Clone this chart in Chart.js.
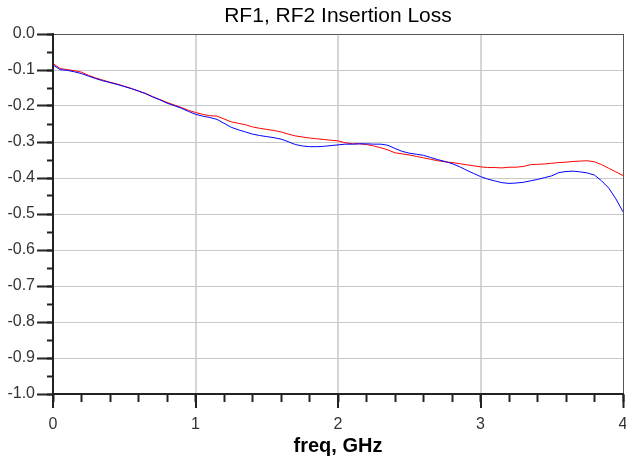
<!DOCTYPE html>
<html>
<head>
<meta charset="utf-8">
<script src="https://cdn.jsdelivr.net/npm/chart.js@4"></script>
<style>
  html, body { margin: 0; padding: 0; background: #ffffff; }
  #wrap { width: 626px; height: 461px; }
</style>
</head>
<body>
<div id="wrap"><canvas id="c" width="626" height="461"></canvas></div>
<script>
const freqGHz = [0.00,0.05,0.10,0.15,0.20,0.25,0.30,0.35,0.40,0.45,0.50,0.55,0.60,0.65,0.70,0.75,0.80,0.85,0.90,0.95,
  1.00,1.05,1.10,1.15,1.20,1.25,1.30,1.35,1.40,1.45,1.50,1.55,1.60,1.65,1.70,1.75,1.80,1.85,1.90,1.95,
  2.00,2.05,2.10,2.15,2.20,2.25,2.30,2.35,2.40,2.45,2.50,2.55,2.60,2.65,2.70,2.75,2.80,2.85,2.90,2.95,
  3.00,3.05,3.10,3.15,3.20,3.25,3.30,3.35,3.40,3.45,3.50,3.55,3.60,3.65,3.70,3.75,3.80,3.85,3.90,3.95,4.00];

const rf1Loss = [-0.082,-0.096,-0.099,-0.102,-0.106,-0.115,-0.122,-0.128,-0.134,-0.139,-0.145,-0.151,-0.159,-0.165,-0.174,-0.182,-0.190,-0.197,-0.204,-0.212,
  -0.218,-0.223,-0.227,-0.228,-0.236,-0.244,-0.248,-0.252,-0.258,-0.262,-0.265,-0.268,-0.272,-0.278,-0.283,-0.286,-0.289,-0.291,-0.293,-0.295,
  -0.297,-0.302,-0.305,-0.305,-0.307,-0.311,-0.316,-0.322,-0.330,-0.333,-0.336,-0.340,-0.344,-0.348,-0.352,-0.355,-0.357,-0.360,-0.363,-0.366,
  -0.369,-0.371,-0.371,-0.372,-0.370,-0.370,-0.368,-0.363,-0.362,-0.361,-0.359,-0.357,-0.356,-0.354,-0.353,-0.352,-0.355,-0.363,-0.373,-0.383,-0.393];

const rf2Loss = [-0.086,-0.099,-0.101,-0.105,-0.110,-0.117,-0.124,-0.130,-0.135,-0.140,-0.146,-0.152,-0.158,-0.166,-0.175,-0.183,-0.192,-0.199,-0.206,-0.215,
  -0.223,-0.228,-0.232,-0.237,-0.248,-0.259,-0.266,-0.272,-0.278,-0.282,-0.285,-0.288,-0.292,-0.299,-0.307,-0.311,-0.313,-0.313,-0.312,-0.310,
  -0.308,-0.306,-0.306,-0.305,-0.305,-0.306,-0.306,-0.309,-0.318,-0.326,-0.331,-0.334,-0.337,-0.343,-0.349,-0.354,-0.360,-0.368,-0.378,-0.387,
  -0.396,-0.403,-0.408,-0.413,-0.415,-0.414,-0.412,-0.408,-0.404,-0.399,-0.394,-0.385,-0.382,-0.381,-0.383,-0.386,-0.392,-0.408,-0.428,-0.458,-0.494];

const chartTitle = 'RF1, RF2 Insertion Loss';
const xAxisTitle = 'freq, GHz';
const xRange = [0, 4];
const yRange = [-1, 0];

const tickFont = { family: "'Liberation Sans', Arial, sans-serif", size: 16 };
const toPts = arr => freqGHz.map((f, i) => ({ x: f, y: arr[i] }));
const noPad = s => { s.paddingLeft = 0; s.paddingRight = 0; s.paddingTop = 0; s.paddingBottom = 0; };

new Chart(document.getElementById('c'), {
  type: 'line',
  data: {
    datasets: [
      { label: 'RF2', data: toPts(rf2Loss), borderColor: '#0000ff', borderWidth: 1, pointRadius: 0, tension: 0, xAxisID: 'x', yAxisID: 'y' },
      { label: 'RF1', data: toPts(rf1Loss), borderColor: '#ff0000', borderWidth: 1, pointRadius: 0, tension: 0, xAxisID: 'x', yAxisID: 'y' }
    ]
  },
  options: {
    responsive: false,
    animation: false,
    events: [],
    layout: { autoPadding: false, padding: { top: 0, right: 3, bottom: 0, left: 0 } },
    plugins: {
      legend: { display: false },
      tooltip: { enabled: false },
      title: {
        display: true, text: chartTitle, fullSize: false, color: '#000',
        font: { family: "'Liberation Sans', Arial, sans-serif", size: 21, weight: 'normal' },
        padding: { top: 3.4, bottom: 5.4 }
      }
    },
    scales: {
      xMinor: {
        type: 'linear', position: 'bottom', min: xRange[0], max: xRange[1], weight: 0,
        ticks: { display: false, stepSize: 0.2 },
        grid: { drawOnChartArea: false, drawTicks: true, tickLength: 8, tickColor: '#222', tickWidth: 2 },
        border: { display: false },
        afterFit: s => { s.height = 0; noPad(s); }
      },
      x: {
        type: 'linear', position: 'bottom', min: xRange[0], max: xRange[1], weight: 1,
        ticks: { stepSize: 1, color: '#333', font: tickFont, padding: 7, maxRotation: 0,
                 callback: v => String(v) },
        grid: {
          color: c => (c.tick && c.tick.value === xRange[1]) ? '#555' : '#d6d6d6',
          lineWidth: c => (c.tick && c.tick.value === xRange[1]) ? 1 : 2,
          tickColor: '#222', tickLength: 14, tickWidth: 2
        },
        border: { display: true, color: '#222', width: 2 },
        title: { display: true, text: xAxisTitle, color: '#000',
                 font: { family: "'Liberation Sans', Arial, sans-serif", size: 20, weight: 'bold' },
                 padding: { top: 0, bottom: 3 } },
        afterFit: s => { s.height = 67; noPad(s); }
      },
      yMinor: {
        type: 'linear', position: 'left', min: yRange[0], max: yRange[1], weight: 0,
        ticks: { display: false, stepSize: 0.05 },
        grid: { drawOnChartArea: false, drawTicks: true, tickLength: 6, tickColor: '#222', tickWidth: 2 },
        border: { display: false },
        afterFit: s => { s.width = 0; noPad(s); }
      },
      y: {
        type: 'linear', position: 'left', min: yRange[0], max: yRange[1], weight: 1,
        ticks: { stepSize: 0.1, color: '#333', font: tickFont, padding: 2,
                 callback: v => (Math.abs(v) < 1e-9 ? 0 : v).toFixed(1) },
        grid: {
          color: c => (c.tick && Math.abs(c.tick.value - yRange[1]) < 1e-9) ? '#555' : '#c8c8c8',
          lineWidth: 1,
          tickColor: '#222', tickLength: 16, tickWidth: 2
        },
        border: { display: true, color: '#222', width: 2 },
        afterFit: s => { s.width = 53; noPad(s); }
      }
    }
  }
});
</script>
</body>
</html>
